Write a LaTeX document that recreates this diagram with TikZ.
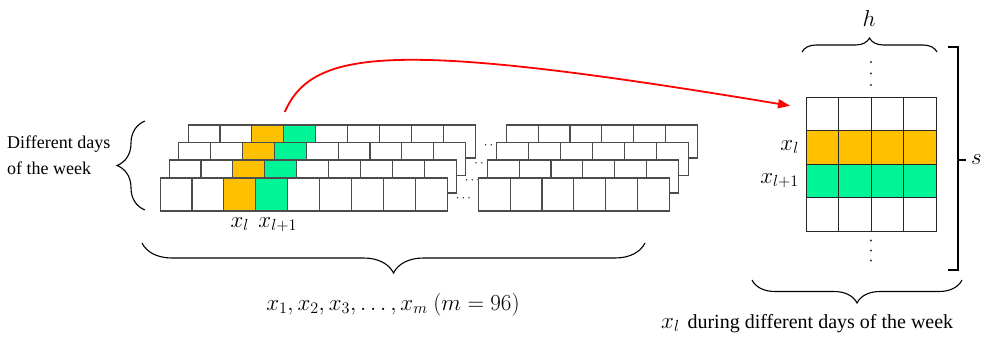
\RequirePackage{fix-cm}
\documentclass[tikz,border=0pt]{standalone}
\usepackage{fontspec}
\setmainfont{Liberation Serif}
\usetikzlibrary{positioning, arrows.meta, decorations.pathreplacing, calc}
\definecolor{curorange}{RGB}{255,192,0}
\definecolor{nextgreen}{RGB}{0,245,150}

\begin{document}
\begin{tikzpicture}[
        x=1pt, y=1pt,
        cell/.style={draw=black!70, line width=1.1pt, fill=white, minimum width=31.9pt, minimum height=33pt, inner sep=0pt, outer sep=0pt},
        cur_cell/.style={cell, fill=curorange},
        next_cell/.style={cell, fill=nextgreen},
        grid_cell/.style={draw=black!85, line width=0.9pt, fill=white, minimum width=32.5pt, minimum height=33.5pt, inner sep=0pt, outer sep=0pt},
        dots_lbl/.style={inner sep=0pt, font=\fontsize{13}{15}\selectfont},
        dot/.style={circle, fill=black!80, inner sep=0pt, minimum size=2.4pt},
        math_label/.style={inner sep=1pt, font=\fontsize{23}{27}\selectfont},
        day_label/.style={inner sep=0pt, align=left, font=\fontsize{18}{26}\selectfont},
        brace_line/.style={decorate, line width=1.1pt, decoration={brace, amplitude=#1}},
        red_arrow/.style={draw=red, line width=1.8pt, -{Triangle[length=12pt, width=9pt]}}
    ]
    \useasboundingbox (0,0) rectangle (988,341);

    % Hari 1
    \node[cell] at (204,199.5) (a1_1) {};
    \node[cell, right=0pt of a1_1] (a1_2) {};
    \node[cur_cell, right=0pt of a1_2] (a1_3) {};
    \node[next_cell, right=0pt of a1_3] (a1_4) {};
    \node[cell, right=0pt of a1_4] (a1_5) {};
    \node[cell, right=0pt of a1_5] (a1_6) {};
    \node[cell, right=0pt of a1_6] (a1_7) {};
    \node[cell, right=0pt of a1_7] (a1_8) {};
    \node[cell, right=0pt of a1_8] (a1_9) {};
    \node[dots_lbl, right=8.5pt of a1_9, yshift=-4.5pt] (dt_1) {$\cdots$};
    \node[cell, right=31pt of a1_9] (b1_1) {};
    \node[cell, right=0pt of b1_1] (b1_2) {};
    \node[cell, right=0pt of b1_2] (b1_3) {};
    \node[cell, right=0pt of b1_3] (b1_4) {};
    \node[cell, right=0pt of b1_4] (b1_5) {};
    \node[cell, right=0pt of b1_5] (b1_6) {};

    % Hari 2
    \node[cell] at (194.5,182) (a2_1) {};
    \node[cell, right=0pt of a2_1] (a2_2) {};
    \node[cur_cell, right=0pt of a2_2] (a2_3) {};
    \node[next_cell, right=0pt of a2_3] (a2_4) {};
    \node[cell, right=0pt of a2_4] (a2_5) {};
    \node[cell, right=0pt of a2_5] (a2_6) {};
    \node[cell, right=0pt of a2_6] (a2_7) {};
    \node[cell, right=0pt of a2_7] (a2_8) {};
    \node[cell, right=0pt of a2_8] (a2_9) {};
    \node[dots_lbl, right=8.5pt of a2_9, yshift=-4.5pt] (dt_2) {$\cdots$};
    \node[cell, right=31pt of a2_9] (b2_1) {};
    \node[cell, right=0pt of b2_1] (b2_2) {};
    \node[cell, right=0pt of b2_2] (b2_3) {};
    \node[cell, right=0pt of b2_3] (b2_4) {};
    \node[cell, right=0pt of b2_4] (b2_5) {};
    \node[cell, right=0pt of b2_5] (b2_6) {};

    % Hari 3
    \node[cell] at (185,164.5) (a3_1) {};
    \node[cell, right=0pt of a3_1] (a3_2) {};
    \node[cur_cell, right=0pt of a3_2] (a3_3) {};
    \node[next_cell, right=0pt of a3_3] (a3_4) {};
    \node[cell, right=0pt of a3_4] (a3_5) {};
    \node[cell, right=0pt of a3_5] (a3_6) {};
    \node[cell, right=0pt of a3_6] (a3_7) {};
    \node[cell, right=0pt of a3_7] (a3_8) {};
    \node[cell, right=0pt of a3_8] (a3_9) {};
    \node[dots_lbl, right=8.5pt of a3_9, yshift=-4.5pt] (dt_3) {$\cdots$};
    \node[cell, right=31pt of a3_9] (b3_1) {};
    \node[cell, right=0pt of b3_1] (b3_2) {};
    \node[cell, right=0pt of b3_2] (b3_3) {};
    \node[cell, right=0pt of b3_3] (b3_4) {};
    \node[cell, right=0pt of b3_4] (b3_5) {};
    \node[cell, right=0pt of b3_5] (b3_6) {};

    % Hari 4
    \node[cell] at (176,146.5) (a4_1) {};
    \node[cell, right=0pt of a4_1] (a4_2) {};
    \node[cur_cell, right=0pt of a4_2] (a4_3) {};
    \node[next_cell, right=0pt of a4_3] (a4_4) {};
    \node[cell, right=0pt of a4_4] (a4_5) {};
    \node[cell, right=0pt of a4_5] (a4_6) {};
    \node[cell, right=0pt of a4_6] (a4_7) {};
    \node[cell, right=0pt of a4_7] (a4_8) {};
    \node[cell, right=0pt of a4_8] (a4_9) {};
    \node[dots_lbl, right=8.5pt of a4_9, yshift=-4.5pt] (dt_4) {$\cdots$};
    \node[cell, right=31pt of a4_9] (b4_1) {};
    \node[cell, right=0pt of b4_1] (b4_2) {};
    \node[cell, right=0pt of b4_2] (b4_3) {};
    \node[cell, right=0pt of b4_3] (b4_4) {};
    \node[cell, right=0pt of b4_4] (b4_5) {};
    \node[cell, right=0pt of b4_5] (b4_6) {};

    \node[math_label, below=5pt of a4_3] (lbl_cur) {$x_l$};
    \node[math_label, below=5pt of a4_4, xshift=6pt] (lbl_next) {$x_{l+1}$};

    % Label hari
    \node[day_label, anchor=west] (days_lbl) at (7,186) {Different days\\of the week};
    \coordinate (lb_bot) at (145,131);
    \coordinate (lb_top) at (145,220);
    \draw[brace_line=28pt] (lb_bot) -- (lb_top);

    \coordinate (bb_l) at (142,98);
    \coordinate (bb_r) at (645,98);
    \draw[brace_line=30pt] (bb_r) -- (bb_l);
    \node[math_label, anchor=base] (sum_lbl) at (393,31) {$x_1, x_2, x_3, \ldots, x_m\ (m = 96)$};

    % Matriks kanan
    \node[grid_cell] at (822.25,227.25) (g1_1) {};
    \node[grid_cell, right=0pt of g1_1] (g1_2) {};
    \node[grid_cell, right=0pt of g1_2] (g1_3) {};
    \node[grid_cell, right=0pt of g1_3] (g1_4) {};
    \node[grid_cell, fill=curorange, below=0pt of g1_1] (g2_1) {};
    \node[grid_cell, fill=curorange, right=0pt of g2_1] (g2_2) {};
    \node[grid_cell, fill=curorange, right=0pt of g2_2] (g2_3) {};
    \node[grid_cell, fill=curorange, right=0pt of g2_3] (g2_4) {};
    \node[grid_cell, fill=nextgreen, below=0pt of g2_1] (g3_1) {};
    \node[grid_cell, fill=nextgreen, right=0pt of g3_1] (g3_2) {};
    \node[grid_cell, fill=nextgreen, right=0pt of g3_2] (g3_3) {};
    \node[grid_cell, fill=nextgreen, right=0pt of g3_3] (g3_4) {};
    \node[grid_cell, below=0pt of g3_1] (g4_1) {};
    \node[grid_cell, right=0pt of g4_1] (g4_2) {};
    \node[grid_cell, right=0pt of g4_2] (g4_3) {};
    \node[grid_cell, right=0pt of g4_3] (g4_4) {};

    \node[math_label, left=6pt of g2_1] (lbl_row_cur) {$x_l$};
    \node[math_label, left=6pt of g3_1] (lbl_row_next) {$x_{l+1}$};

    \node[dot] at ($(g1_2.north east)+(0,12)$) (vd_1) {};
    \node[dot] at ($(g1_2.north east)+(0,23.5)$) (vd_2) {};
    \node[dot] at ($(g1_2.north east)+(0,35)$) (vd_3) {};
    \node[dot] at ($(g4_2.south east)+(0,-9.5)$) (vd_4) {};
    \node[dot] at ($(g4_2.south east)+(0,-19.5)$) (vd_5) {};
    \node[dot] at ($(g4_2.south east)+(0,-29.5)$) (vd_6) {};

    \coordinate (tb_l) at (802,289);
    \coordinate (tb_r) at (937,289);
    \draw[brace_line=14pt] (tb_l) -- (tb_r);
    \node[math_label, anchor=base] (h_lbl) at (869,314) {$h$};

    \coordinate (sb_top) at (958,294);
    \coordinate (sb_bot) at (958,71);
    \coordinate (sb_mid) at (958,181);
    \draw[line width=1.1pt] ($(sb_top)+(-10,0)$) -- (sb_top) -- (sb_bot) -- ($(sb_bot)+(-10,0)$);
    \draw[line width=1.1pt] (sb_mid) -- ++(8,0);
    \node[math_label, anchor=west] (s_lbl) at (970,181) {$s$};

    \coordinate (rb_l) at (752,61);
    \coordinate (rb_r) at (962,61);
    \draw[brace_line=23pt] (rb_r) -- (rb_l);
    \node[inner sep=0pt, anchor=base west, font=\fontsize{20}{24}\selectfont] (week_lbl) at (661,13) {{\fontsize{23}{27}\selectfont$x_l$}\hspace{8pt}during different days of the week};

    % Panah merah
    \coordinate (arr_start) at ($(a1_3.north east)+(1,13)$);
    \coordinate (arr_end) at ($(g1_1.west)+(-16,8)$);
    \draw[red_arrow] (arr_start) .. controls ($(arr_start)+(28,64)$) and ($(arr_start)+(110,72)$) .. (arr_end);

\end{tikzpicture}
\end{document}
